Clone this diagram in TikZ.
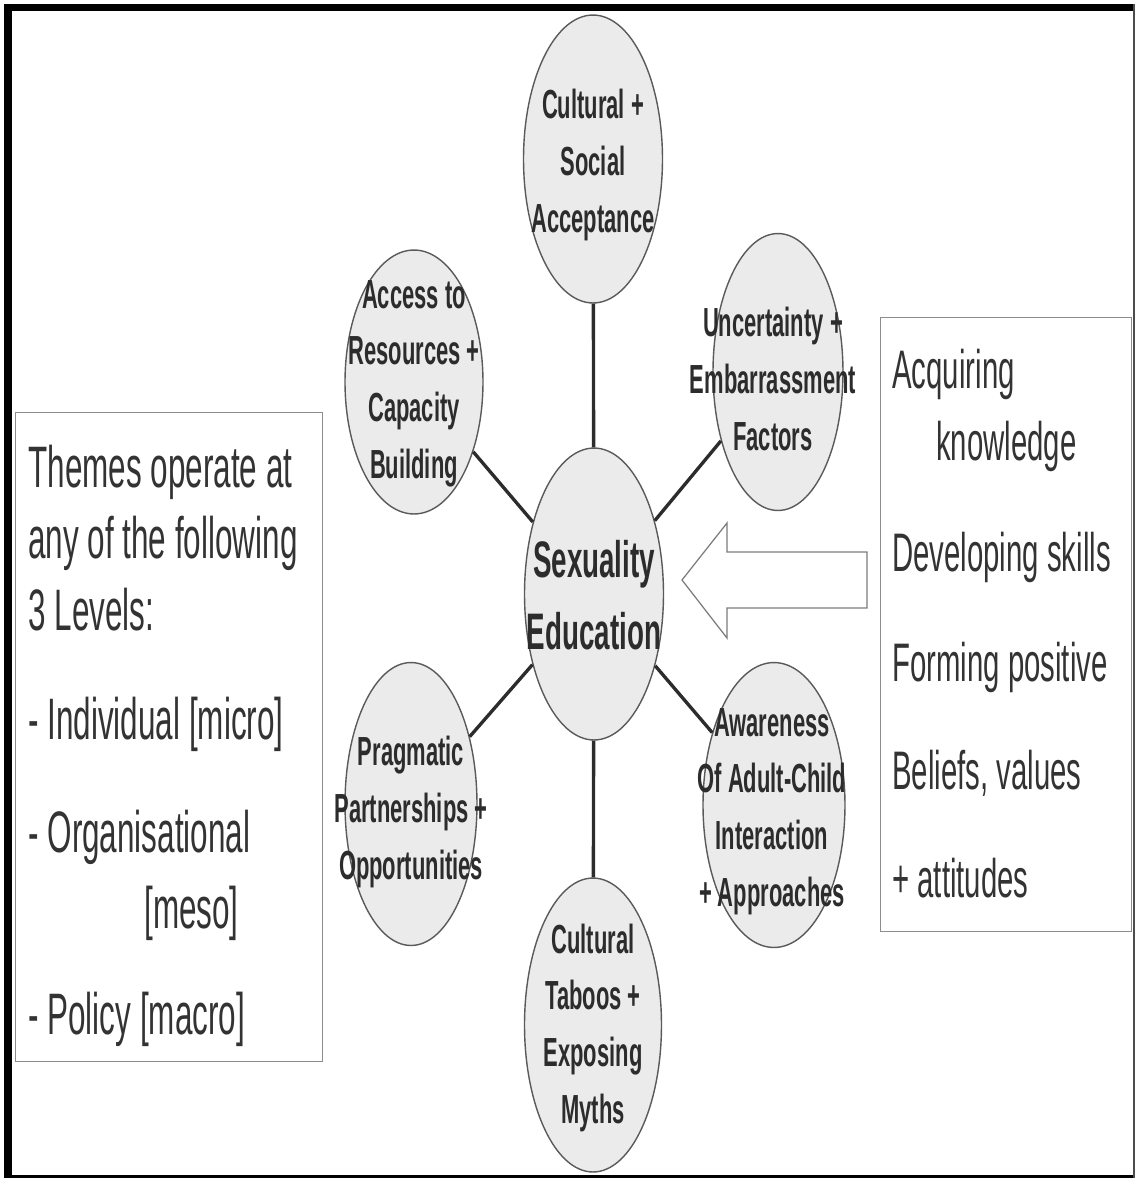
\documentclass[tikz,border=0pt]{standalone}
\usepackage{fontspec}
\setmainfont{Liberation Sans}
\usepackage{graphicx}
\usepackage{tikz}
\usetikzlibrary{shapes.geometric}
\definecolor{inkgray}{HTML}{2C2C2C}
\definecolor{boxink}{HTML}{333333}
\definecolor{bubblefill}{HTML}{EBEBEB}
\definecolor{bubbleline}{HTML}{5A5A5A}
\definecolor{panelline}{HTML}{8C8C8C}
\newcommand{\talll}[2]{\scalebox{1}[#1]{\begin{tabular}[t]{@{}l@{}}#2\end{tabular}}}
\newcommand{\bubbletxt}[1]{\scalebox{1}[1.85]{\begin{tabular}{@{}c@{}}#1\end{tabular}}}
\tikzset{
  bubble/.style={ellipse, draw=bubbleline, fill=bubblefill, line width=0.8pt, inner sep=0pt},
  bubblelabel/.style={inner sep=0pt, text=inkgray, font=\fontsize{12.5}{17.5}\selectfont\bfseries},
  spoke/.style={draw=inkgray, line width=1.9pt},
  panel/.style={draw=panelline, line width=0.8pt, inner sep=0pt, anchor=north west},
  paneltext/.style={inner sep=0pt, anchor=base west, text=boxink},
  blockarrow/.style={draw=bubbleline!80, fill=white, line width=0.7pt, line join=miter}
}
\begin{document}
\begin{tikzpicture}[x=0.02cm, y=-0.02cm]
        \useasboundingbox (0,0) rectangle (1135,1178);
        % frame
        \fill[black] (4,4) rectangle (12,1178);
        \fill[black] (4,4) rectangle (1135,11);
        \fill[black] (4,1175) rectangle (1135,1178);
        \fill[black!70] (1133,4) rectangle (1135,1178);

        % bubbles
        \node[bubble, minimum width=2.78cm, minimum height=5.84cm] (hub) at (594,594) {};
        \node[bubble, minimum width=2.78cm, minimum height=5.76cm] (top) at (593,159) {};
        \node[bubble, minimum width=2.74cm, minimum height=5.88cm] (bot) at (593,1025) {};
        \node[bubble, minimum width=2.76cm, minimum height=5.28cm] (ul) at (414,382) {};
        \node[bubble, minimum width=2.60cm, minimum height=5.54cm] (ur) at (778,372) {};
        \node[bubble, minimum width=2.64cm, minimum height=5.66cm] (ll) at (411,804) {};
        \node[bubble, minimum width=2.84cm, minimum height=5.70cm] (lr) at (774,805) {};

        \draw[spoke] (hub)--(top) (hub)--(bot) (hub)--(ul) (hub)--(ur) (hub)--(ll) (hub)--(lr);

        \node[bubblelabel] (hubtxt) at (594,599) {\fontsize{15.8}{22}\selectfont\bubbletxt{Sexuality\\Education}};
        \node[bubblelabel] (toptxt) at (593,164) {\bubbletxt{Cultural +\\Social\\Acceptance}};
        \node[bubblelabel] (bottxt) at (593,1027) {\bubbletxt{Cultural\\Taboos +\\Exposing\\Myths}};
        \node[bubblelabel] (ultxt) at (414,382) {\bubbletxt{Access to\\Resources +\\Capacity\\Building}};
        \node[bubblelabel] (urtxt) at (773,382) {\bubbletxt{Uncertainty +\\Embarrassment\\Factors}};
        \node[bubblelabel] (lltxt) at (411,811) {\bubbletxt{Pragmatic\\Partnerships +\\Opportunities}};
        \node[bubblelabel] (lrtxt) at (772,810) {\bubbletxt{Awareness\\Of Adult-Child\\Interaction\\+ Approaches}};

        % hollow arrow into the hub
        \draw[blockarrow] (867,552) -- (727,552) -- (727,523) -- (682,580)
              -- (727,638) -- (727,608) -- (867,608) -- cycle;

        % side panels
        \node[panel, minimum width=6.14cm, minimum height=12.98cm] (levels) at (15,412) {};
        \node[paneltext, font=\fontsize{17.9}{22}\selectfont] (levelstxt) at (28,487)
              {\talll{1.86}{Themes operate at\\any of the following\\3 Levels:\\[11.4pt]
               - Individual [micro]\\[12.3pt]
               - Organisational\\[1.5pt]
               \hspace*{66pt}[meso]\\[10.4pt]
               - Policy [macro]}};

        \node[panel, minimum width=5.02cm, minimum height=12.28cm] (aims) at (880,317) {};
        \node[paneltext, font=\fontsize{16.7}{22.4}\selectfont] (aimstxt) at (892,388)
              {\talll{1.85}{Acquiring\\
               \hspace*{25pt}knowledge\\[11.5pt]
               Developing skills\\[11.5pt]
               Forming positive\\[10.8pt]
               Beliefs, values\\[10.8pt]
               + attitudes}};
\end{tikzpicture}
\end{document}
